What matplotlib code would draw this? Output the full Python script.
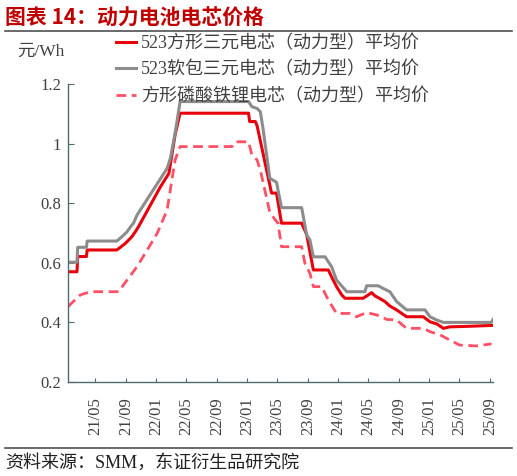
import numpy as np
import pandas as pd
import matplotlib
matplotlib.use("Agg")
import matplotlib.pyplot as plt
import matplotlib.dates as mdates
from matplotlib.lines import Line2D

plt.rcParams["font.family"] = ["Liberation Serif", "Noto Sans CJK SC", "DejaVu Sans"]

# 523方形三元电芯（动力型）平均价
ncm_sq_dates = ["2021-01-11", "2021-02-16", "2021-02-19", "2021-03-26", "2021-03-29",
                "2021-07-26", "2021-08-09", "2021-08-29", "2021-09-12", "2021-09-25",
                "2021-10-08", "2021-10-21", "2022-01-17", "2022-02-20", "2022-03-17",
                "2022-04-06", "2023-01-06", "2023-01-10", "2023-02-02", "2023-02-09",
                "2023-04-08", "2023-04-28", "2023-05-18", "2023-08-07", "2023-08-27",
                "2023-09-09", "2023-09-23", "2023-11-22", "2023-12-05", "2023-12-25",
                "2024-01-15", "2024-01-28", "2024-04-10", "2024-04-30", "2024-05-14",
                "2024-05-27", "2024-06-16", "2024-07-06", "2024-07-26", "2024-08-22",
                "2024-10-01", "2024-12-07", "2025-01-03", "2025-01-30", "2025-02-26",
                "2025-03-23", "2025-06-11", "2025-09-13"]
ncm_sq_vals = [0.570, 0.570, 0.621, 0.621, 0.643,
               0.643, 0.652, 0.665, 0.677, 0.688,
               0.704, 0.721, 0.855, 0.900, 1.030,
               1.102, 1.102, 1.074, 1.074, 1.060,
               0.834, 0.834, 0.733, 0.733, 0.695,
               0.637, 0.576, 0.576, 0.553, 0.520,
               0.492, 0.481, 0.481, 0.492, 0.500,
               0.489, 0.480, 0.470, 0.455, 0.442,
               0.419, 0.419, 0.402, 0.395, 0.380,
               0.385, 0.387, 0.390]

# 523软包三元电芯（动力型）平均价
ncm_pouch_dates = ["2021-01-11", "2021-02-16", "2021-02-19", "2021-03-26", "2021-03-29",
                   "2021-07-26", "2021-08-16", "2021-09-05", "2021-09-19", "2021-10-01",
                   "2021-10-15", "2022-02-13", "2022-02-26", "2022-03-17", "2022-04-06",
                   "2023-01-06", "2023-01-19", "2023-02-09", "2023-02-22", "2023-03-05",
                   "2023-04-01", "2023-04-28", "2023-05-18", "2023-08-07", "2023-08-27",
                   "2023-09-09", "2023-09-23", "2023-11-09", "2023-12-05", "2023-12-25",
                   "2024-02-04", "2024-04-17", "2024-04-24", "2024-06-09", "2024-06-29",
                   "2024-07-26", "2024-08-22", "2024-10-01", "2024-12-14", "2025-01-03",
                   "2025-01-30", "2025-02-26", "2025-09-07", "2025-09-13"]
ncm_pouch_vals = [0.602, 0.602, 0.652, 0.652, 0.673,
                  0.673, 0.688, 0.704, 0.721, 0.733,
                  0.760, 0.917, 0.951, 1.035, 1.141,
                  1.141, 1.124, 1.118, 1.107, 1.050,
                  0.884, 0.870, 0.785, 0.785, 0.693,
                  0.677, 0.620, 0.620, 0.587, 0.542,
                  0.503, 0.503, 0.523, 0.523, 0.514,
                  0.503, 0.470, 0.442, 0.442, 0.419,
                  0.408, 0.400, 0.400, 0.410]

# 方形磷酸铁锂电芯（动力型）平均价
lfp_dates = ["2021-01-11", "2021-03-01", "2021-04-11", "2021-08-02", "2021-09-05",
             "2021-10-15", "2021-11-25", "2022-01-04", "2022-02-13", "2022-03-04",
             "2022-03-17", "2022-04-06", "2022-10-31", "2022-11-13", "2023-01-06",
             "2023-01-19", "2023-02-09", "2023-02-22", "2023-04-01", "2023-04-21",
             "2023-05-04", "2023-05-18", "2023-08-07", "2023-08-20", "2023-09-09",
             "2023-09-23", "2023-10-26", "2023-11-22", "2023-12-25", "2024-02-17",
             "2024-03-14", "2024-04-24", "2024-06-03", "2024-06-23", "2024-07-13",
             "2024-08-22", "2024-10-01", "2024-12-07", "2025-01-03", "2025-02-13",
             "2025-03-23", "2025-05-02", "2025-07-08", "2025-09-07"]
lfp_vals = [0.453, 0.492, 0.503, 0.503, 0.542,
            0.587, 0.643, 0.699, 0.777, 0.878,
            0.945, 0.990, 0.990, 1.006, 1.006,
            0.962, 0.945, 0.911, 0.770, 0.746,
            0.733, 0.654, 0.654, 0.598, 0.565,
            0.520, 0.520, 0.475, 0.430, 0.430,
            0.419, 0.433, 0.425, 0.419, 0.410,
            0.408, 0.380, 0.380, 0.369, 0.358,
            0.341, 0.324, 0.321, 0.328]

labels = ["523方形三元电芯（动力型）平均价",
          "523软包三元电芯（动力型）平均价",
          "方形磷酸铁锂电芯（动力型）平均价"]

W, H = 517, 476
fig = plt.figure(figsize=(W / 100, H / 100), dpi=100)
ax = fig.add_axes([68 / W, 1 - 382 / H, (493 - 68) / W, (382 - 84) / H])

l1, = ax.plot(pd.to_datetime(ncm_sq_dates), ncm_sq_vals, color="#E8000B", lw=2.2)
l2, = ax.plot(pd.to_datetime(ncm_pouch_dates), ncm_pouch_vals, color="#8C8C8C", lw=2.2)
l3, = ax.plot(pd.to_datetime(lfp_dates), lfp_vals, color="#FF5065", lw=2.0,
              dashes=(3.5, 2))

ax.set_ylim(0.2, 1.2)
ax.set_yticks([0.2, 0.4, 0.6, 0.8, 1.0, 1.2])
ax.set_yticklabels(["0.2", "0.4", "0.6", "0.8", "1", "1.2"])
ax.set_xlim(pd.Timestamp("2021-01-11"), pd.Timestamp("2025-09-13"))
ax.set_xticks(pd.date_range("2021-05-01", "2025-09-01", freq="4MS"))
ax.xaxis.set_major_formatter(mdates.DateFormatter("%y/%m"))

spine_c = "#4F6B6B"
for s in ["top", "right"]:
    ax.spines[s].set_visible(False)
for s in ["left", "bottom"]:
    ax.spines[s].set_color(spine_c)
    ax.spines[s].set_linewidth(1.0)
ax.tick_params(axis="y", direction="in", length=4, color=spine_c, labelsize=12,
               labelcolor="#404040", pad=5)
ax.tick_params(axis="x", direction="in", length=3, color=spine_c, labelsize=12,
               labelcolor="#404040", pad=11, labelrotation=90)

fig.text(5 / W, 1 - 18 / H, "图表 14：动力电池电芯价格", color="#C00000",
         fontsize=15, fontweight="bold", family=["Noto Sans CJK SC"], va="center")
fig.add_artist(Line2D([5 / W, 512 / W], [1 - 31 / H] * 2, color="#505050", lw=1.2))
fig.add_artist(Line2D([5 / W, 512 / W], [1 - 448 / H] * 2, color="#505050", lw=1.2))
fig.text(5 / W, 1 - 463 / H, "资料来源：SMM，东证衍生品研究院", fontsize=13,
         color="#202020", va="center")
fig.text(17 / W, 1 - 52 / H, "元/Wh", fontsize=12.5, color="#404040", va="center")

fig.legend([l1, l2, l3], labels, loc="upper left",
           bbox_to_anchor=(116 / W, 1 - 35 / H), frameon=False, fontsize=13,
           handlelength=1.1, handletextpad=0.3, labelspacing=0.5, borderpad=0,
           borderaxespad=0, labelcolor="#404040")

fig.savefig("out.png", dpi=100)
